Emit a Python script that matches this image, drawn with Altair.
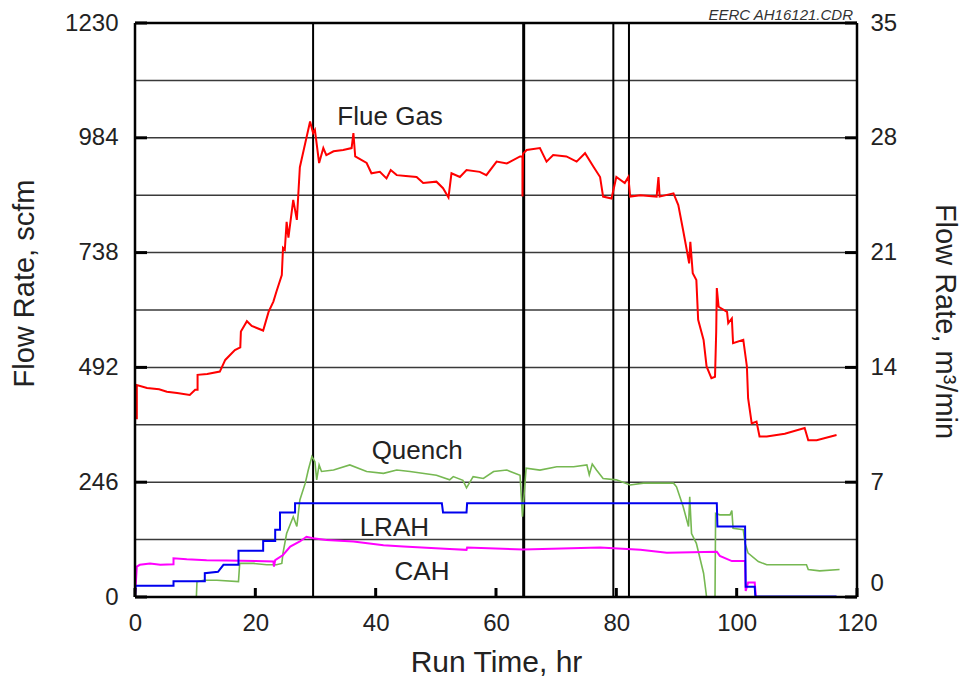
import altair as alt
import pandas as pd

# ---------------- data ----------------
FLUE_T = [0, 0.3, 0.3, 2, 4, 5.3, 7, 9.1, 10, 10.4, 10.4, 12, 14.1, 15, 16.6, 17.5, 17.6, 18.6, 19.4, 21.3,
          22.2, 23, 23.5, 24.4, 24.6, 24.9, 25.2, 25.5, 26.3, 26.9, 27.4, 28.3, 29.1, 29.6, 29.9, 30.6, 31.3,
          31.8, 33, 34.6, 36, 36.3, 36.6, 38.5, 39.3, 40.7, 41.8, 42.5, 43.5, 45, 46.8, 47.9, 50.1, 51.2, 52.1,
          52.6, 54, 55.1, 57.3, 58.4, 60.1, 61.8, 64, 64.4, 64.4, 64.5, 65.1, 67.3, 68.4, 69.5, 71.7, 73.4,
          74.8, 76.2, 77.3, 77.8, 79.2, 80, 81.4, 82, 82.3, 84, 86.7, 87, 87.2, 89.5, 90.3, 91.1, 91.7, 92.1,
          92.3, 92.7, 93.3, 93.6, 94.5, 95, 95.8, 96.4, 96.6, 96.7, 97, 98.4, 98.6, 99.2, 99.4, 101.1, 101.7,
          101.9, 102.5, 103.3, 103.8, 105, 108, 111.3, 111.9, 113.3, 116.6]
FLUE_V = [383, 383, 454, 448, 445, 440, 437, 433, 444, 444, 476, 478, 483, 508, 529, 535, 569, 591, 581, 571,
          611, 633, 654, 690, 748, 744, 804, 770, 851, 808, 921, 973, 1019, 994, 1001, 930, 962,
          947, 955, 958, 962, 994, 944, 930, 908, 911, 897, 915, 904, 902, 900, 887, 890, 876, 856,
          908, 900, 915, 911, 904, 933, 929, 944, 944, 858, 950, 958, 962, 933, 947, 944, 933,
          951, 922, 900, 858, 854, 900, 887, 900, 858, 861, 858, 900, 858, 865, 840, 786, 744, 715,
          761, 694, 679, 594, 551, 494, 469, 472, 569, 662, 622, 611, 587, 597, 544, 551, 494,
          426, 372, 376, 344, 344, 350, 362, 336, 336, 347]

QUENCH_T = [0, 10.2, 10.3, 11.4, 13.6, 17.2, 17.4, 19.7, 21.9, 23.5, 24.4, 24.6, 25.2, 26.3, 26.9, 27.4, 28.3,
            28.8, 29.4, 29.9, 30.2, 30.6, 31, 33, 35.7, 38.5, 41.3, 43.5, 45.7, 50.1, 52.3, 52.9, 54.5, 55.1,
            56.2, 57.9, 59.6, 61.8, 64, 64.4, 65, 67.3, 70.1, 72.9, 75.1, 75.5, 76, 76.7, 77.8, 80, 82.3,
            84.5, 89.5, 90, 91.1, 92, 92.2, 92.5, 93.3, 94.5, 95, 96.4, 96.5, 97.2, 98.9, 99.2, 99.4, 101.1,
            101.4, 101.9, 103.6, 105, 111.6, 111.9, 113.8, 117.1]
QUENCH_V = [0, 0, 33, 36, 36, 33, 72, 72, 69, 69, 72, 94, 136, 172, 151, 208, 244,
            272, 301, 290, 251, 283, 269, 272, 283, 269, 265, 272, 269, 261, 251, 258, 250, 234,
            258, 254, 269, 272, 261, 172, 276, 272, 279, 279, 283, 262, 285, 272, 254, 251, 240,
            244, 244, 236, 194, 151, 215, 136, 115, 51, 0, 0, 179, 176, 176, 185, 147, 144,
            115, 94, 76, 69, 69, 59, 56, 59]

LRAH_T = [0, 0.1, 6.4, 6.4, 11.6, 11.6, 13.8, 14.7, 17.2, 17.2, 21.3, 21.3, 23.3, 23.3, 24.1, 24.1, 26.6,
          26.6, 51.0, 51.2, 55.1, 55.2, 96.7, 96.8, 101.4, 101.5, 103, 103.1, 116.6]
LRAH_V = [0, 24, 24, 34, 34, 51, 54, 69, 69, 99, 99, 120, 120, 144, 144, 181, 181,
          201, 201, 181, 181, 201, 201, 151, 151, 22, 22, 1, 1]

CAH_T = [0, 0.3, 0.8, 2.5, 4.2, 6.4, 6.4, 8.6, 11.9, 15.2, 20, 23, 23.1, 23.3, 24.6, 25.8, 27.4, 28.5, 29.6,
         31.8, 36.3, 41.3, 44.6, 52.3, 55.1, 55.2, 64.5, 77.3, 84, 88.4, 96.7, 97.2, 99.2, 101.4, 101.5,
         101.9, 103, 103.2]
CAH_V = [0, 65, 69, 72, 69, 70, 83, 81, 79, 78, 77, 76, 65, 79, 90, 108, 119, 129, 126,
         122, 119, 111, 108, 103, 101, 106, 102, 106, 101, 95, 97, 88, 77, 77, 13,
         31, 31, 0]

SERIES = ["Quench", "CAH", "LRAH", "Flue Gas"]
COLORS = ["#76b852", "#ff00ff", "#0000ee", "#ff0000"]
WIDTHS = [1.6, 2, 2, 2]

LABELS = ["Flue Gas", "Quench", "LRAH", "CAH"]
LABEL_T = [42.4, 46.9, 43.1, 47.7]
LABEL_V = [1011, 296, 131, 36]

LEFT_TICKS = [0, 246, 492, 738, 984, 1230]
RIGHT_TICKS = [0, 7, 14, 21, 28, 35]
X_TICKS = [0, 20, 40, 60, 80, 100, 120]
GRID_V = [123, 246, 369, 492, 615, 738, 861, 984, 1107]
EVENT_T = [29.6, 64.6, 79.5, 82.1]
EVENT_W = [2, 3, 2, 2]
FILE_TAG = "EERC AH16121.CDR"

FONT = "Liberation Sans"
W, H = 722, 574

xscale = alt.Scale(domain=[0, 120], nice=False, zero=False)
yscale = alt.Scale(domain=[0, 1230], nice=False)

series_data = {
    "Flue Gas": (FLUE_T, FLUE_V),
    "Quench": (QUENCH_T, QUENCH_V),
    "LRAH": (LRAH_T, LRAH_V),
    "CAH": (CAH_T, CAH_V),
}

x_axis = alt.Axis(values=X_TICKS, title="Run Time, hr", domain=False, ticks=False, grid=False,
                  labelFontSize=24, labelFont=FONT, labelColor="#222", labelPadding=14, format="d",
                  titleFontSize=30, titleFont=FONT, titleFontWeight="normal", titleColor="#222",
                  titlePadding=12, labelFlush=False)
y_axis = alt.Axis(values=LEFT_TICKS, title="Flow Rate, scfm", domain=False, ticks=False, grid=False,
                  labelFontSize=24, labelFont=FONT, labelColor="#222", labelPadding=17, format="d",
                  titleFontSize=29, titleFont=FONT, titleFontWeight="normal", titleColor="#222",
                  titleAngle=-90, titleX=-111, titleY=260, titleAlign="center", titleBaseline="middle",
                  labelFlush=False)


def X(field):
    return alt.X(field, scale=xscale, axis=x_axis)


def Y(field):
    return alt.Y(field, scale=yscale, axis=y_axis)


# grid lines
grid = alt.Chart(pd.DataFrame({"v": GRID_V})).mark_rule(color="#3a3a3a", strokeWidth=1.5).encode(
    y=Y("v:Q"))

# event lines
events = alt.Chart(pd.DataFrame({"t": EVENT_T, "w": EVENT_W})).mark_rule(color="black").encode(
    x=X("t:Q"), strokeWidth=alt.StrokeWidth("w:Q", scale=None))

# inside tick marks
tick_df = pd.DataFrame({"v": LEFT_TICKS})
left_ticks = alt.Chart(tick_df).mark_rule(color="black", strokeWidth=3).encode(
    y=Y("v:Q"), x=alt.value(0), x2=alt.value(12))
right_ticks = alt.Chart(tick_df).mark_rule(color="black", strokeWidth=3).encode(
    y=Y("v:Q"), x=alt.value(W - 12), x2=alt.value(W))
bottom_ticks = alt.Chart(pd.DataFrame({"t": X_TICKS})).mark_rule(color="black", strokeWidth=3).encode(
    x=X("t:Q"), y=alt.value(H - 9), y2=alt.value(H))

# frame
frame_v = alt.Chart(pd.DataFrame({"t": [0, 120]})).mark_rule(color="black", strokeWidth=2.5).encode(
    x=X("t:Q"), y=alt.value(0), y2=alt.value(H))
frame_h = alt.Chart(pd.DataFrame({"v": [0, 1230]})).mark_rule(color="black", strokeWidth=2.5).encode(
    y=Y("v:Q"), x=alt.value(0), x2=alt.value(W))

# series lines
lines = []
for name, col, wdt in zip(SERIES, COLORS, WIDTHS):
    t, v = series_data[name]
    df = pd.DataFrame({"t": t, "v": v, "i": list(range(len(t)))})
    lines.append(alt.Chart(df).mark_line(color=col, strokeWidth=wdt, strokeJoin="miter").encode(
        x=X("t:Q"), y=Y("v:Q"), order=alt.Order("i:Q")))

labels = alt.Chart(pd.DataFrame({"t": LABEL_T, "v": LABEL_V, "s": LABELS})).mark_text(
    font=FONT, fontSize=26, color="#222", align="center", baseline="alphabetic").encode(
    x=X("t:Q"), y=Y("v:Q"), text="s:N")

tag = alt.Chart(pd.DataFrame({"s": [FILE_TAG]})).mark_text(
    font=FONT, fontSize=15, fontStyle="italic", color="#333", align="right", baseline="alphabetic").encode(
    x=alt.value(W - 4), y=alt.value(-3), text="s:N")

left = alt.layer(grid, events, *lines, left_ticks, right_ticks, bottom_ticks, frame_v, frame_h, labels, tag)

right = alt.Chart(pd.DataFrame({"m": RIGHT_TICKS})).mark_point(opacity=0).encode(
    y=alt.Y("m:Q", scale=alt.Scale(domain=[0, 35], nice=False),
            axis=alt.Axis(orient="right", values=RIGHT_TICKS, title="Flow Rate, m³/min",
                          domain=False, ticks=False, grid=False, format="d",
                          labelFontSize=24, labelFont=FONT, labelColor="#222", labelPadding=13,
                          labelOffset={"condition": {"test": "datum.value == 0", "value": -14}, "value": 0},
                          titleFontSize=29, titleFont=FONT, titleFontWeight="normal", titleColor="#222",
                          titleAngle=90, titleX=87, titleY=298, titleAlign="center",
                          titleBaseline="middle", labelFlush=False)))

chart = alt.layer(left, right).resolve_scale(y="independent").properties(
    width=W, height=H,
    autosize=alt.AutoSizeParams(type="none"),
    padding={"left": 135, "top": 23, "right": 966 - 135 - W, "bottom": 683 - 23 - H},
).configure_view(strokeWidth=0).configure(background="white")

chart.save("out.html", embed_options={"renderer": "svg", "actions": False})
